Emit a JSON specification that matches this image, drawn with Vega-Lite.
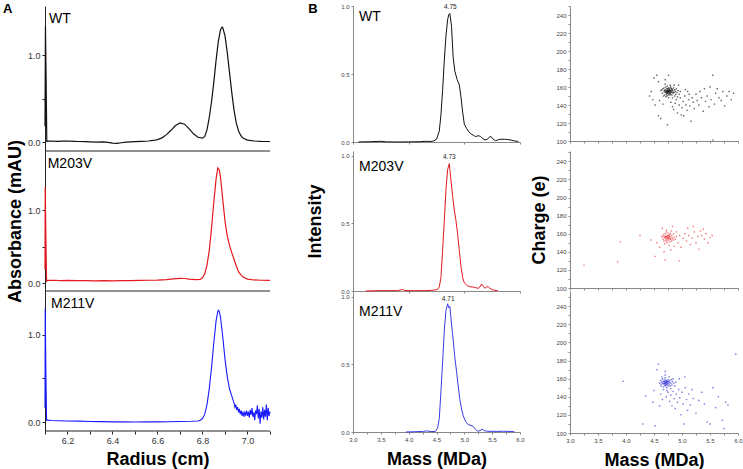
{
"$schema": "https://vega.github.io/schema/vega-lite/v6.json",
"padding": {"left": 2, "top": 2, "right": 0, "bottom": 0},
"background": "white",
"config": {
 "font": "Liberation Sans",
 "view": {"stroke": null},
 "axis": {"grid": false, "labelOverlap": false, "labelFont": "Liberation Sans", "titleFont": "Liberation Sans", "labelFontSize": 9, "labelColor": "#333", "tickSize": 3, "labelPadding": 2, "domainColor": "#222", "tickColor": "#222", "titleFontSize": 18, "titleFontWeight": "bold", "titleColor": "#000"},
 "axisX": {"labelFlush": false},
 "text": {"font": "Liberation Sans", "color": "#000"}
},
"datasets": {
 "absWT": [{"radius":6.100,"absorbance":0.18},{"radius":6.102,"absorbance":1.33},{"radius":6.105,"absorbance":0.70},{"radius":6.108,"absorbance":0.0},{"radius":6.11,"absorbance":0.01},{"radius":6.13,"absorbance":0.012},{"radius":6.15,"absorbance":0.008},{"radius":6.18,"absorbance":0.01},{"radius":6.2,"absorbance":0.012},{"radius":6.23,"absorbance":0.008},{"radius":6.25,"absorbance":0.006},{"radius":6.28,"absorbance":0.004},{"radius":6.3,"absorbance":0.002},{"radius":6.33,"absorbance":0.0},{"radius":6.36,"absorbance":0.002},{"radius":6.38,"absorbance":-0.004},{"radius":6.40,"absorbance":-0.012},{"radius":6.42,"absorbance":-0.016},{"radius":6.44,"absorbance":-0.008},{"radius":6.46,"absorbance":-0.002},{"radius":6.48,"absorbance":0.002},{"radius":6.50,"absorbance":0.005},{"radius":6.53,"absorbance":0.008},{"radius":6.56,"absorbance":0.012},{"radius":6.58,"absorbance":0.018},{"radius":6.60,"absorbance":0.028},{"radius":6.62,"absorbance":0.048},{"radius":6.64,"absorbance":0.085},{"radius":6.66,"absorbance":0.135},{"radius":6.68,"absorbance":0.19},{"radius":6.70,"absorbance":0.22},{"radius":6.72,"absorbance":0.205},{"radius":6.74,"absorbance":0.155},{"radius":6.76,"absorbance":0.095},{"radius":6.78,"absorbance":0.055},{"radius":6.80,"absorbance":0.045},{"radius":6.81,"absorbance":0.065},{"radius":6.82,"absorbance":0.14},{"radius":6.83,"absorbance":0.28},{"radius":6.84,"absorbance":0.46},{"radius":6.85,"absorbance":0.68},{"radius":6.86,"absorbance":0.93},{"radius":6.87,"absorbance":1.15},{"radius":6.88,"absorbance":1.29},{"radius":6.887,"absorbance":1.32},{"radius":6.89,"absorbance":1.315},{"radius":6.90,"absorbance":1.22},{"radius":6.91,"absorbance":1.03},{"radius":6.92,"absorbance":0.80},{"radius":6.93,"absorbance":0.57},{"radius":6.94,"absorbance":0.37},{"radius":6.95,"absorbance":0.22},{"radius":6.96,"absorbance":0.13},{"radius":6.97,"absorbance":0.075},{"radius":6.98,"absorbance":0.045},{"radius":7.00,"absorbance":0.022},{"radius":7.03,"absorbance":0.012},{"radius":7.06,"absorbance":0.008},{"radius":7.10,"absorbance":0.006}],
 "absM203V": [{"radius":6.100,"absorbance":0.19},{"radius":6.101,"absorbance":1.32},{"radius":6.104,"absorbance":0.60},{"radius":6.107,"absorbance":0.03},{"radius":6.11,"absorbance":0.04},{"radius":6.14,"absorbance":0.042},{"radius":6.17,"absorbance":0.038},{"radius":6.2,"absorbance":0.04},{"radius":6.24,"absorbance":0.036},{"radius":6.28,"absorbance":0.038},{"radius":6.32,"absorbance":0.034},{"radius":6.36,"absorbance":0.036},{"radius":6.4,"absorbance":0.035},{"radius":6.44,"absorbance":0.037},{"radius":6.48,"absorbance":0.038},{"radius":6.52,"absorbance":0.04},{"radius":6.56,"absorbance":0.042},{"radius":6.6,"absorbance":0.045},{"radius":6.64,"absorbance":0.052},{"radius":6.67,"absorbance":0.062},{"radius":6.70,"absorbance":0.068},{"radius":6.72,"absorbance":0.066},{"radius":6.74,"absorbance":0.058},{"radius":6.77,"absorbance":0.05},{"radius":6.79,"absorbance":0.055},{"radius":6.80,"absorbance":0.075},{"radius":6.81,"absorbance":0.13},{"radius":6.82,"absorbance":0.25},{"radius":6.83,"absorbance":0.45},{"radius":6.84,"absorbance":0.75},{"radius":6.85,"absorbance":1.10},{"radius":6.86,"absorbance":1.42},{"radius":6.868,"absorbance":1.58},{"radius":6.875,"absorbance":1.55},{"radius":6.88,"absorbance":1.45},{"radius":6.89,"absorbance":1.15},{"radius":6.90,"absorbance":0.85},{"radius":6.91,"absorbance":0.65},{"radius":6.92,"absorbance":0.52},{"radius":6.93,"absorbance":0.42},{"radius":6.94,"absorbance":0.33},{"radius":6.95,"absorbance":0.24},{"radius":6.96,"absorbance":0.16},{"radius":6.97,"absorbance":0.12},{"radius":6.98,"absorbance":0.085},{"radius":7.0,"absorbance":0.058},{"radius":7.03,"absorbance":0.046},{"radius":7.06,"absorbance":0.042},{"radius":7.10,"absorbance":0.04}],
 "absM211V": [{"radius":6.100,"absorbance":0.16},{"radius":6.101,"absorbance":1.30},{"radius":6.104,"absorbance":0.55},{"radius":6.107,"absorbance":0.02},{"radius":6.11,"absorbance":0.022},{"radius":6.13,"absorbance":0.018},{"radius":6.16,"absorbance":0.015},{"radius":6.2,"absorbance":0.012},{"radius":6.25,"absorbance":0.01},{"radius":6.3,"absorbance":0.006},{"radius":6.35,"absorbance":0.004},{"radius":6.4,"absorbance":0.002},{"radius":6.45,"absorbance":0.001},{"radius":6.5,"absorbance":0.0},{"radius":6.55,"absorbance":0.001},{"radius":6.6,"absorbance":0.002},{"radius":6.65,"absorbance":0.003},{"radius":6.7,"absorbance":0.005},{"radius":6.75,"absorbance":0.008},{"radius":6.78,"absorbance":0.012},{"radius":6.79,"absorbance":0.02},{"radius":6.80,"absorbance":0.04},{"radius":6.81,"absorbance":0.09},{"radius":6.82,"absorbance":0.20},{"radius":6.83,"absorbance":0.38},{"radius":6.84,"absorbance":0.62},{"radius":6.85,"absorbance":0.90},{"radius":6.86,"absorbance":1.15},{"radius":6.868,"absorbance":1.27},{"radius":6.872,"absorbance":1.28},{"radius":6.876,"absorbance":1.25},{"radius":6.88,"absorbance":1.20},{"radius":6.89,"absorbance":0.98},{"radius":6.90,"absorbance":0.72},{"radius":6.91,"absorbance":0.52},{"radius":6.92,"absorbance":0.38},{"radius":6.93,"absorbance":0.30},{"radius":6.936,"absorbance":0.25},{"radius":6.940,"absorbance":0.22},{"radius":6.944,"absorbance":0.17},{"radius":6.948,"absorbance":0.20},{"radius":6.952,"absorbance":0.14},{"radius":6.956,"absorbance":0.17},{"radius":6.960,"absorbance":0.11},{"radius":6.964,"absorbance":0.15},{"radius":6.968,"absorbance":0.09},{"radius":6.972,"absorbance":0.13},{"radius":6.976,"absorbance":0.07},{"radius":6.980,"absorbance":0.12},{"radius":6.984,"absorbance":0.06},{"radius":6.988,"absorbance":0.11},{"radius":6.992,"absorbance":0.08},{"radius":6.996,"absorbance":0.13},{"radius":7.000,"absorbance":0.07},{"radius":7.004,"absorbance":0.12},{"radius":7.008,"absorbance":0.05},{"radius":7.012,"absorbance":0.14},{"radius":7.016,"absorbance":0.08},{"radius":7.020,"absorbance":0.16},{"radius":7.024,"absorbance":0.06},{"radius":7.028,"absorbance":0.11},{"radius":7.032,"absorbance":0.02},{"radius":7.036,"absorbance":0.13},{"radius":7.040,"absorbance":0.09},{"radius":7.044,"absorbance":0.19},{"radius":7.048,"absorbance":0.04},{"radius":7.052,"absorbance":0.15},{"radius":7.056,"absorbance":-0.02},{"radius":7.060,"absorbance":0.12},{"radius":7.064,"absorbance":0.05},{"radius":7.068,"absorbance":0.17},{"radius":7.072,"absorbance":0.03},{"radius":7.076,"absorbance":0.14},{"radius":7.080,"absorbance":0.06},{"radius":7.084,"absorbance":0.20},{"radius":7.088,"absorbance":0.02},{"radius":7.092,"absorbance":0.16},{"radius":7.096,"absorbance":0.07},{"radius":7.100,"absorbance":0.12}],
 "msWT": [{"mass":3.1,"intensity":0.0},{"mass":3.3,"intensity":0.002},{"mass":3.5,"intensity":0.005},{"mass":3.6,"intensity":0.001},{"mass":3.8,"intensity":0.0},{"mass":4.0,"intensity":0.001},{"mass":4.2,"intensity":0.002},{"mass":4.3,"intensity":0.005},{"mass":4.4,"intensity":0.004},{"mass":4.45,"intensity":0.008},{"mass":4.50,"intensity":0.02},{"mass":4.55,"intensity":0.08},{"mass":4.58,"intensity":0.2},{"mass":4.61,"intensity":0.38},{"mass":4.64,"intensity":0.6},{"mass":4.67,"intensity":0.78},{"mass":4.70,"intensity":0.9},{"mass":4.72,"intensity":0.935},{"mass":4.74,"intensity":0.945},{"mass":4.77,"intensity":0.85},{"mass":4.80,"intensity":0.62},{"mass":4.83,"intensity":0.52},{"mass":4.87,"intensity":0.46},{"mass":4.91,"intensity":0.42},{"mass":4.94,"intensity":0.33},{"mass":4.97,"intensity":0.22},{"mass":5.00,"intensity":0.13},{"mass":5.04,"intensity":0.10},{"mass":5.08,"intensity":0.075},{"mass":5.12,"intensity":0.06},{"mass":5.16,"intensity":0.05},{"mass":5.20,"intensity":0.04},{"mass":5.25,"intensity":0.046},{"mass":5.29,"intensity":0.042},{"mass":5.33,"intensity":0.025},{"mass":5.37,"intensity":0.015},{"mass":5.41,"intensity":0.02},{"mass":5.45,"intensity":0.036},{"mass":5.48,"intensity":0.04},{"mass":5.52,"intensity":0.02},{"mass":5.56,"intensity":0.01},{"mass":5.60,"intensity":0.015},{"mass":5.65,"intensity":0.02},{"mass":5.72,"intensity":0.02},{"mass":5.78,"intensity":0.018},{"mass":5.84,"intensity":0.014},{"mass":5.90,"intensity":0.008},{"mass":5.97,"intensity":0.004}],
 "msM203V": [{"mass":3.23,"intensity":0.0},{"mass":3.4,"intensity":0.002},{"mass":3.6,"intensity":0.003},{"mass":3.8,"intensity":0.003},{"mass":3.86,"intensity":0.008},{"mass":3.89,"intensity":0.012},{"mass":3.93,"intensity":0.004},{"mass":4.1,"intensity":0.002},{"mass":4.3,"intensity":0.003},{"mass":4.45,"intensity":0.006},{"mass":4.52,"intensity":0.012},{"mass":4.55,"intensity":0.03},{"mass":4.58,"intensity":0.10},{"mass":4.61,"intensity":0.30},{"mass":4.64,"intensity":0.52},{"mass":4.67,"intensity":0.75},{"mass":4.70,"intensity":0.90},{"mass":4.73,"intensity":0.943},{"mass":4.76,"intensity":0.82},{"mass":4.79,"intensity":0.70},{"mass":4.82,"intensity":0.60},{"mass":4.85,"intensity":0.52},{"mass":4.88,"intensity":0.42},{"mass":4.91,"intensity":0.30},{"mass":4.94,"intensity":0.18},{"mass":4.97,"intensity":0.10},{"mass":5.00,"intensity":0.06},{"mass":5.05,"intensity":0.04},{"mass":5.10,"intensity":0.032},{"mass":5.15,"intensity":0.03},{"mass":5.20,"intensity":0.025},{"mass":5.25,"intensity":0.02},{"mass":5.28,"intensity":0.03},{"mass":5.31,"intensity":0.052},{"mass":5.34,"intensity":0.035},{"mass":5.37,"intensity":0.02},{"mass":5.40,"intensity":0.03},{"mass":5.43,"intensity":0.032},{"mass":5.46,"intensity":0.02},{"mass":5.50,"intensity":0.01},{"mass":5.55,"intensity":0.005},{"mass":5.60,"intensity":0.002}],
 "msM211V": [{"mass":3.95,"intensity":0.0},{"mass":4.1,"intensity":0.002},{"mass":4.25,"intensity":0.004},{"mass":4.32,"intensity":0.008},{"mass":4.40,"intensity":0.003},{"mass":4.48,"intensity":0.004},{"mass":4.52,"intensity":0.03},{"mass":4.55,"intensity":0.10},{"mass":4.58,"intensity":0.30},{"mass":4.61,"intensity":0.52},{"mass":4.64,"intensity":0.75},{"mass":4.67,"intensity":0.90},{"mass":4.70,"intensity":0.95},{"mass":4.72,"intensity":0.92},{"mass":4.74,"intensity":0.93},{"mass":4.77,"intensity":0.80},{"mass":4.80,"intensity":0.68},{"mass":4.83,"intensity":0.55},{"mass":4.86,"intensity":0.45},{"mass":4.89,"intensity":0.34},{"mass":4.92,"intensity":0.24},{"mass":4.95,"intensity":0.17},{"mass":4.98,"intensity":0.12},{"mass":5.02,"intensity":0.08},{"mass":5.06,"intensity":0.058},{"mass":5.10,"intensity":0.05},{"mass":5.15,"intensity":0.045},{"mass":5.20,"intensity":0.02},{"mass":5.24,"intensity":0.006},{"mass":5.28,"intensity":0.01},{"mass":5.32,"intensity":0.02},{"mass":5.36,"intensity":0.01},{"mass":5.42,"intensity":0.005},{"mass":5.5,"intensity":0.005},{"mass":5.6,"intensity":0.004},{"mass":5.7,"intensity":0.006},{"mass":5.8,"intensity":0.004},{"mass":5.9,"intensity":0.002}],
 "cdWT": [{"mass":4.62,"charge":156},{"mass":4.65,"charge":153},{"mass":4.66,"charge":158},{"mass":4.68,"charge":155},{"mass":4.69,"charge":151},{"mass":4.70,"charge":157},{"mass":4.70,"charge":154},{"mass":4.71,"charge":160},{"mass":4.72,"charge":152},{"mass":4.72,"charge":156},{"mass":4.73,"charge":155},{"mass":4.73,"charge":158},{"mass":4.74,"charge":153},{"mass":4.74,"charge":156},{"mass":4.75,"charge":154},{"mass":4.75,"charge":157},{"mass":4.75,"charge":151},{"mass":4.76,"charge":155},{"mass":4.76,"charge":159},{"mass":4.77,"charge":153},{"mass":4.77,"charge":156},{"mass":4.78,"charge":154},{"mass":4.78,"charge":157},{"mass":4.78,"charge":151},{"mass":4.79,"charge":155},{"mass":4.79,"charge":159},{"mass":4.80,"charge":152},{"mass":4.80,"charge":156},{"mass":4.81,"charge":154},{"mass":4.81,"charge":158},{"mass":4.82,"charge":155},{"mass":4.82,"charge":151},{"mass":4.83,"charge":157},{"mass":4.84,"charge":153},{"mass":4.84,"charge":156},{"mass":4.85,"charge":159},{"mass":4.86,"charge":154},{"mass":4.87,"charge":150},{"mass":4.87,"charge":157},{"mass":4.88,"charge":155},{"mass":4.89,"charge":152},{"mass":4.90,"charge":158},{"mass":4.91,"charge":154},{"mass":4.92,"charge":149},{"mass":4.93,"charge":156},{"mass":4.95,"charge":152},{"mass":4.97,"charge":155},{"mass":4.68,"charge":159},{"mass":4.67,"charge":150},{"mass":4.64,"charge":157},{"mass":4.71,"charge":149},{"mass":4.74,"charge":161},{"mass":4.79,"charge":162},{"mass":4.83,"charge":148},{"mass":4.86,"charge":162},{"mass":4.76,"charge":148},{"mass":4.70,"charge":163},{"mass":4.73,"charge":150},{"mass":4.80,"charge":160},{"mass":4.77,"charge":158},{"mass":4.72,"charge":154},{"mass":4.74,"charge":155},{"mass":4.76,"charge":156},{"mass":4.78,"charge":156},{"mass":4.75,"charge":155},{"mass":4.73,"charge":153},{"mass":4.77,"charge":154},{"mass":4.79,"charge":153},{"mass":4.81,"charge":156},{"mass":4.71,"charge":155},{"mass":4.69,"charge":156},{"mass":4.84,"charge":154},{"mass":4.82,"charge":158},{"mass":4.76,"charge":152},{"mass":4.74,"charge":158},{"mass":4.42,"charge":150},{"mass":4.48,"charge":146},{"mass":4.50,"charge":170},{"mass":4.55,"charge":173},{"mass":4.58,"charge":166},{"mass":4.52,"charge":140},{"mass":4.45,"charge":155},{"mass":4.60,"charge":145},{"mass":4.62,"charge":125},{"mass":4.66,"charge":141},{"mass":4.70,"charge":168},{"mass":4.74,"charge":118},{"mass":4.76,"charge":173},{"mass":4.80,"charge":143},{"mass":4.83,"charge":138},{"mass":4.85,"charge":135},{"mass":4.88,"charge":142},{"mass":4.90,"charge":146},{"mass":4.92,"charge":131},{"mass":4.95,"charge":140},{"mass":4.97,"charge":148},{"mass":5.00,"charge":137},{"mass":5.02,"charge":144},{"mass":5.03,"charge":128},{"mass":5.05,"charge":150},{"mass":5.07,"charge":140},{"mass":5.09,"charge":134},{"mass":5.10,"charge":155},{"mass":5.12,"charge":146},{"mass":5.14,"charge":139},{"mass":5.16,"charge":122},{"mass":5.18,"charge":148},{"mass":5.20,"charge":143},{"mass":5.22,"charge":136},{"mass":5.25,"charge":152},{"mass":5.27,"charge":145},{"mass":5.30,"charge":140},{"mass":5.32,"charge":155},{"mass":5.35,"charge":148},{"mass":5.38,"charge":133},{"mass":5.40,"charge":158},{"mass":5.42,"charge":144},{"mass":5.45,"charge":150},{"mass":5.48,"charge":138},{"mass":5.50,"charge":160},{"mass":5.52,"charge":146},{"mass":5.55,"charge":173},{"mass":5.58,"charge":141},{"mass":5.60,"charge":153},{"mass":5.63,"charge":158},{"mass":5.66,"charge":148},{"mass":5.70,"charge":145},{"mass":5.73,"charge":155},{"mass":5.76,"charge":139},{"mass":5.80,"charge":150},{"mass":5.84,"charge":155},{"mass":5.88,"charge":146},{"mass":5.92,"charge":153},{"mass":5.55,"charge":101},{"mass":4.58,"charge":128},{"mass":4.99,"charge":129},{"mass":5.06,"charge":157},{"mass":4.94,"charge":162},{"mass":5.13,"charge":152}],
 "cdM203V": [{"mass":4.64,"charge":157},{"mass":4.66,"charge":154},{"mass":4.67,"charge":159},{"mass":4.68,"charge":152},{"mass":4.69,"charge":156},{"mass":4.70,"charge":160},{"mass":4.70,"charge":155},{"mass":4.71,"charge":153},{"mass":4.72,"charge":157},{"mass":4.72,"charge":162},{"mass":4.73,"charge":155},{"mass":4.73,"charge":150},{"mass":4.74,"charge":158},{"mass":4.74,"charge":154},{"mass":4.75,"charge":156},{"mass":4.75,"charge":161},{"mass":4.76,"charge":153},{"mass":4.76,"charge":158},{"mass":4.77,"charge":155},{"mass":4.78,"charge":151},{"mass":4.78,"charge":157},{"mass":4.79,"charge":154},{"mass":4.79,"charge":160},{"mass":4.80,"charge":156},{"mass":4.81,"charge":152},{"mass":4.82,"charge":158},{"mass":4.83,"charge":155},{"mass":4.84,"charge":153},{"mass":4.85,"charge":160},{"mass":4.86,"charge":156},{"mass":4.88,"charge":154},{"mass":4.90,"charge":157},{"mass":4.69,"charge":149},{"mass":4.72,"charge":164},{"mass":4.77,"charge":147},{"mass":4.81,"charge":163},{"mass":4.74,"charge":156},{"mass":4.76,"charge":155},{"mass":4.71,"charge":157},{"mass":4.78,"charge":159},{"mass":4.73,"charge":152},{"mass":4.66,"charge":157},{"mass":4.80,"charge":154},{"mass":4.75,"charge":158},{"mass":4.70,"charge":157},{"mass":4.77,"charge":157},{"mass":3.25,"charge":125},{"mass":3.90,"charge":151},{"mass":3.85,"charge":129},{"mass":4.25,"charge":158},{"mass":4.45,"charge":153},{"mass":4.55,"charge":150},{"mass":4.60,"charge":145},{"mass":4.65,"charge":166},{"mass":4.68,"charge":140},{"mass":4.80,"charge":142},{"mass":4.83,"charge":168},{"mass":4.86,"charge":146},{"mass":4.90,"charge":162},{"mass":4.93,"charge":150},{"mass":4.96,"charge":158},{"mass":4.98,"charge":145},{"mass":5.02,"charge":155},{"mass":5.05,"charge":160},{"mass":5.08,"charge":152},{"mass":5.10,"charge":166},{"mass":5.12,"charge":158},{"mass":5.15,"charge":148},{"mass":5.18,"charge":155},{"mass":5.22,"charge":162},{"mass":5.25,"charge":150},{"mass":5.28,"charge":157},{"mass":5.30,"charge":143},{"mass":5.33,"charge":163},{"mass":5.35,"charge":158},{"mass":5.38,"charge":165},{"mass":5.40,"charge":154},{"mass":5.43,"charge":160},{"mass":5.46,"charge":150},{"mass":5.50,"charge":156},{"mass":5.54,"charge":158},{"mass":4.52,"charge":135},{"mass":4.95,"charge":130},{"mass":5.20,"charge":168},{"mass":4.70,"charge":131}],
 "cdM211V": [{"mass":4.60,"charge":155},{"mass":4.62,"charge":158},{"mass":4.63,"charge":152},{"mass":4.64,"charge":156},{"mass":4.65,"charge":160},{"mass":4.66,"charge":154},{"mass":4.66,"charge":157},{"mass":4.67,"charge":151},{"mass":4.68,"charge":155},{"mass":4.68,"charge":159},{"mass":4.69,"charge":153},{"mass":4.69,"charge":157},{"mass":4.70,"charge":155},{"mass":4.70,"charge":161},{"mass":4.71,"charge":152},{"mass":4.71,"charge":156},{"mass":4.72,"charge":158},{"mass":4.72,"charge":154},{"mass":4.73,"charge":156},{"mass":4.73,"charge":150},{"mass":4.74,"charge":157},{"mass":4.74,"charge":153},{"mass":4.75,"charge":159},{"mass":4.75,"charge":155},{"mass":4.76,"charge":152},{"mass":4.76,"charge":157},{"mass":4.77,"charge":154},{"mass":4.78,"charge":158},{"mass":4.78,"charge":156},{"mass":4.79,"charge":152},{"mass":4.80,"charge":155},{"mass":4.81,"charge":159},{"mass":4.82,"charge":153},{"mass":4.83,"charge":157},{"mass":4.85,"charge":155},{"mass":4.87,"charge":152},{"mass":4.64,"charge":162},{"mass":4.67,"charge":148},{"mass":4.70,"charge":164},{"mass":4.73,"charge":147},{"mass":4.77,"charge":162},{"mass":4.80,"charge":149},{"mass":4.84,"charge":160},{"mass":4.89,"charge":156},{"mass":4.71,"charge":158},{"mass":4.69,"charge":155},{"mass":4.73,"charge":154},{"mass":4.66,"charge":155},{"mass":4.75,"charge":157},{"mass":4.68,"charge":157},{"mass":4.72,"charge":156},{"mass":4.70,"charge":153},{"mass":4.74,"charge":155},{"mass":4.62,"charge":154},{"mass":3.95,"charge":157},{"mass":4.30,"charge":110},{"mass":4.35,"charge":141},{"mass":4.48,"charge":134},{"mass":4.50,"charge":147},{"mass":4.52,"charge":108},{"mass":4.55,"charge":170},{"mass":4.58,"charge":176},{"mass":4.62,"charge":143},{"mass":4.65,"charge":137},{"mass":4.70,"charge":168},{"mass":4.72,"charge":140},{"mass":4.75,"charge":145},{"mass":4.78,"charge":135},{"mass":4.80,"charge":142},{"mass":4.82,"charge":130},{"mass":4.84,"charge":146},{"mass":4.86,"charge":138},{"mass":4.88,"charge":127},{"mass":4.90,"charge":143},{"mass":4.92,"charge":134},{"mass":4.94,"charge":148},{"mass":4.96,"charge":139},{"mass":4.98,"charge":120},{"mass":5.00,"charge":145},{"mass":5.02,"charge":132},{"mass":5.04,"charge":110},{"mass":5.06,"charge":150},{"mass":5.08,"charge":137},{"mass":5.10,"charge":125},{"mass":5.12,"charge":143},{"mass":5.15,"charge":131},{"mass":5.18,"charge":148},{"mass":5.20,"charge":138},{"mass":5.25,"charge":122},{"mass":5.30,"charge":136},{"mass":5.35,"charge":145},{"mass":5.40,"charge":132},{"mass":5.45,"charge":112},{"mass":5.50,"charge":110},{"mass":5.55,"charge":150},{"mass":5.60,"charge":128},{"mass":5.65,"charge":140},{"mass":5.72,"charge":114},{"mass":5.75,"charge":105},{"mass":5.78,"charge":134},{"mass":5.82,"charge":131},{"mass":5.96,"charge":187},{"mass":4.95,"charge":160},{"mass":5.05,"charge":162},{"mass":4.60,"charge":130}]
},
"columns": 3,
"spacing": {"row": 0, "column": 50},
"bounds": "flush",
"align": "each",
"concat": [
 {"width": 258, "height": 145,
  "layer": [
   {"data": {"name": "absWT"}, "mark": {"type": "line", "color": "#111", "strokeWidth": 1.2},
    "encoding": {
     "x": {"field": "radius", "type": "quantitative", "scale": {"domain": [6.1, 7.2467], "nice": false, "zero": false}, "axis": null},
     "y": {"field": "absorbance", "type": "quantitative", "scale": {"domain": [-0.103, 1.563], "nice": false, "zero": false}, "axis": {"title": null, "values": [0, 0.5, 1], "labelExpr": "datum.value == 0.5 ? '' : format(datum.value, '.1f')"}}}},
   {"data": {"values": [{"label": "line"}]}, "mark": {"type": "rule", "color": "#222", "strokeWidth": 1}, "encoding": {"x": {"datum": 6.1}, "x2": {"datum": 7.1}, "y": {"datum": -0.103}}},
   {"data": {"values": [{"label": "WT"}]}, "mark": {"type": "text", "align": "left", "baseline": "middle", "fontSize": 14}, "encoding": {"x": {"datum": 6.118}, "y": {"datum": 1.414}, "text": {"field": "label"}}},
   {"data": {"values": [{"label": "A"}]}, "mark": {"type": "text", "align": "left", "baseline": "middle", "fontSize": 13, "fontWeight": "bold"}, "encoding": {"x": {"datum": 5.9133}, "y": {"datum": 1.528}, "text": {"field": "label"}}}
  ]},
 {"width": 167, "height": 136,
  "layer": [
   {"data": {"name": "msWT"}, "mark": {"type": "line", "color": "#111", "strokeWidth": 1},
    "encoding": {
     "x": {"field": "mass", "type": "quantitative", "scale": {"domain": [3, 6], "nice": false, "zero": false}, "axis": {"title": null, "labels": false, "values": [3,3.25,3.5,3.75,4,4.25,4.5,4.75,5,5.25,5.5,5.75,6], "tickSize": 2, "domainColor": "#888", "tickColor": "#888"}},
     "y": {"field": "intensity", "type": "quantitative", "scale": {"domain": [0, 1], "nice": false}, "axis": {"title": null, "values": [0, 0.5, 1], "format": ".1f", "labelFontSize": 6, "tickSize": 2, "domainColor": "#888", "tickColor": "#888", "labelColor": "#444"}}}},
   {"data": {"values": [{"label": "WT"}]}, "mark": {"type": "text", "align": "left", "baseline": "middle", "fontSize": 14}, "encoding": {"x": {"datum": 3.11}, "y": {"datum": 0.916}, "text": {"field": "label"}}},
   {"data": {"values": [{"label": "4.75"}]}, "mark": {"type": "text", "align": "center", "baseline": "middle", "fontSize": 6.5, "color": "#222"}, "encoding": {"x": {"datum": 4.75}, "y": {"datum": 0.995}, "text": {"field": "label"}}},
   {"data": {"values": [{"label": "B"}]}, "mark": {"type": "text", "align": "center", "baseline": "middle", "fontSize": 13, "fontWeight": "bold"}, "encoding": {"x": {"datum": 2.281}, "y": {"datum": 0.978}, "text": {"field": "label"}}}
  ]},
 {"width": 168, "height": 135,
  "data": {"name": "cdWT"},
  "mark": {"type": "square", "size": 2, "color": "#000", "opacity": 0.6},
  "encoding": {
   "x": {"field": "mass", "type": "quantitative", "scale": {"domain": [3, 6], "nice": false, "zero": false}, "axis": {"title": null, "labels": false, "values": [3,3.25,3.5,3.75,4,4.25,4.5,4.75,5,5.25,5.5,5.75,6], "tickSize": 2, "domainColor": "#888", "tickColor": "#888"}},
   "y": {"field": "charge", "type": "quantitative", "scale": {"domain": [100, 250], "nice": false, "zero": false}, "axis": {"title": null, "values": [100,110,120,130,140,150,160,170,180,190,200,210,220,230,240,250], "labelExpr": "datum.value % 20 == 0 && datum.value < 250 ? format(datum.value, 'd') : ''", "labelFontSize": 6, "tickSize": 2, "domainColor": "#888", "tickColor": "#888", "labelColor": "#444"}}}},
 {"width": 258, "height": 140,
  "layer": [
   {"data": {"name": "absM203V"}, "mark": {"type": "line", "color": "#e3191f", "strokeWidth": 1.2},
    "encoding": {
     "x": {"field": "radius", "type": "quantitative", "scale": {"domain": [6.1, 7.2467], "nice": false, "zero": false}, "axis": null},
     "y": {"field": "absorbance", "type": "quantitative", "scale": {"domain": [-0.105, 1.812], "nice": false, "zero": false}, "axis": {"title": "Absorbance (mAU)", "titlePadding": 3, "values": [0, 0.5, 1], "labelExpr": "datum.value == 0.5 ? '' : format(datum.value, '.1f')"}}}},
   {"data": {"values": [{"label": "line"}]}, "mark": {"type": "rule", "color": "#222", "strokeWidth": 1}, "encoding": {"x": {"datum": 6.1}, "x2": {"datum": 7.1}, "y": {"datum": -0.105}}},
   {"data": {"values": [{"label": "M203V"}]}, "mark": {"type": "text", "align": "left", "baseline": "middle", "fontSize": 14}, "encoding": {"x": {"datum": 6.112}, "y": {"datum": 1.638}, "text": {"field": "label"}}}
  ]},
 {"width": 167, "height": 140,
  "layer": [
   {"data": {"name": "msM203V"}, "mark": {"type": "line", "color": "#e3191f", "strokeWidth": 1},
    "encoding": {
     "x": {"field": "mass", "type": "quantitative", "scale": {"domain": [3, 6], "nice": false, "zero": false}, "axis": {"title": null, "labels": false, "values": [3,3.25,3.5,3.75,4,4.25,4.5,4.75,5,5.25,5.5,5.75,6], "tickSize": 2, "domainColor": "#888", "tickColor": "#888"}},
     "y": {"field": "intensity", "type": "quantitative", "scale": {"domain": [0, 1.037], "nice": false}, "axis": {"title": "Intensity", "titlePadding": 16, "values": [0, 0.5, 1], "format": ".1f", "labelFontSize": 6, "tickSize": 2, "domainColor": "#888", "tickColor": "#888", "labelColor": "#444"}}}},
   {"data": {"values": [{"label": "M203V"}]}, "mark": {"type": "text", "align": "left", "baseline": "middle", "fontSize": 14}, "encoding": {"x": {"datum": 3.11}, "y": {"datum": 0.921}, "text": {"field": "label"}}},
   {"data": {"values": [{"label": "4.73"}]}, "mark": {"type": "text", "align": "center", "baseline": "middle", "fontSize": 6.5, "color": "#222"}, "encoding": {"x": {"datum": 4.73}, "y": {"datum": 0.995}, "text": {"field": "label"}}}
  ]},
 {"width": 168, "height": 137,
  "data": {"name": "cdM203V"},
  "mark": {"type": "square", "size": 2, "color": "#e8262c", "opacity": 0.6},
  "encoding": {
   "x": {"field": "mass", "type": "quantitative", "scale": {"domain": [3, 6], "nice": false, "zero": false}, "axis": {"title": null, "labels": false, "values": [3,3.25,3.5,3.75,4,4.25,4.5,4.75,5,5.25,5.5,5.75,6], "tickSize": 2, "domainColor": "#888", "tickColor": "#888"}},
   "y": {"field": "charge", "type": "quantitative", "scale": {"domain": [100, 251.5], "nice": false, "zero": false}, "axis": {"title": "Charge (e)", "titlePadding": 7, "values": [100,110,120,130,140,150,160,170,180,190,200,210,220,230,240,250], "labelExpr": "datum.value % 20 == 0 && datum.value < 250 ? format(datum.value, 'd') : ''", "labelFontSize": 6, "tickSize": 2, "domainColor": "#888", "tickColor": "#888", "labelColor": "#444"}}}},
 {"width": 258, "height": 140,
  "resolve": {"axis": {"x": "independent"}},
  "layer": [
   {"data": {"name": "absM211V"}, "mark": {"type": "line", "color": "#1a1aff", "strokeWidth": 1.1},
    "encoding": {
     "x": {"field": "radius", "type": "quantitative", "scale": {"domain": [6.1, 7.2467], "nice": false, "zero": false}, "axis": {"orient": "bottom", "domain": false, "title": "Radius (cm)", "titleX": 112.5, "titlePadding": 5, "values": [6.2, 6.4, 6.6, 6.8, 7.0], "format": ".1f"}},
     "y": {"field": "absorbance", "type": "quantitative", "scale": {"domain": [-0.103, 1.501], "nice": false, "zero": false}, "axis": {"title": null, "values": [0, 0.5, 1], "labelExpr": "datum.value == 0.5 ? '' : format(datum.value, '.1f')"}}}},
   {"data": {"values": [{"label": "line"}]}, "mark": {"type": "rule", "color": "#222", "strokeWidth": 1}, "encoding": {"x": {"datum": 6.1, "axis": {"orient": "bottom", "domain": false, "labels": false, "title": null, "values": [6.1, 6.3, 6.5, 6.7, 6.9, 7.1]}}, "x2": {"datum": 7.1}, "y": {"datum": -0.103}}},
   {"data": {"values": [{"label": "M211V"}]}, "mark": {"type": "text", "align": "left", "baseline": "middle", "fontSize": 14}, "encoding": {"x": {"datum": 6.127, "axis": null}, "y": {"datum": 1.348}, "text": {"field": "label"}}}
  ]},
 {"width": 167, "height": 141,
  "resolve": {"axis": {"x": "independent"}},
  "layer": [
   {"data": {"name": "msM211V"}, "mark": {"type": "line", "color": "#3a3ae6", "strokeWidth": 1},
    "encoding": {
     "x": {"field": "mass", "type": "quantitative", "scale": {"domain": [3, 6], "nice": false, "zero": false}, "axis": {"orient": "bottom", "title": "Mass (MDa)", "titlePadding": 8, "values": [3, 3.5, 4, 4.5, 5, 5.5, 6], "format": ".1f", "labelFontSize": 6, "tickSize": 2, "domainColor": "#888", "tickColor": "#888", "labelColor": "#444"}},
     "y": {"field": "intensity", "type": "quantitative", "scale": {"domain": [0, 1.0444], "nice": false}, "axis": {"title": null, "values": [0, 0.5, 1], "format": ".1f", "labelFontSize": 6, "tickSize": 2, "domainColor": "#888", "tickColor": "#888", "labelColor": "#444"}}}},
   {"data": {"values": [{"label": "M211V"}]}, "mark": {"type": "text", "align": "left", "baseline": "middle", "fontSize": 14}, "encoding": {"x": {"datum": 3.11, "axis": {"orient": "bottom", "domain": false, "labels": false, "title": null, "values": [3.25, 3.75, 4.25, 4.75, 5.25, 5.75], "tickSize": 2, "tickColor": "#888"}}, "y": {"datum": 0.89}, "text": {"field": "label"}}},
   {"data": {"values": [{"label": "4.71"}]}, "mark": {"type": "text", "align": "center", "baseline": "middle", "fontSize": 6.5, "color": "#222"}, "encoding": {"x": {"datum": 4.71, "axis": null}, "y": {"datum": 0.988}, "text": {"field": "label"}}}
  ]},
 {"width": 168, "height": 142,
  "resolve": {"axis": {"x": "independent"}},
  "layer": [
   {"data": {"name": "cdM211V"},
    "mark": {"type": "square", "size": 2, "color": "#1c1cd0", "opacity": 0.6},
    "encoding": {
     "x": {"field": "mass", "type": "quantitative", "scale": {"domain": [3, 6], "nice": false, "zero": false}, "axis": {"orient": "bottom", "title": "Mass (MDa)", "titlePadding": 8, "values": [3, 3.5, 4, 4.5, 5, 5.5, 6], "format": ".1f", "labelFontSize": 6, "tickSize": 2, "domainColor": "#888", "tickColor": "#888", "labelColor": "#444"}},
     "y": {"field": "charge", "type": "quantitative", "scale": {"domain": [100, 256.9], "nice": false, "zero": false}, "axis": {"title": null, "values": [100,110,120,130,140,150,160,170,180,190,200,210,220,230,240,250], "labelExpr": "datum.value % 20 == 0 && datum.value < 250 ? format(datum.value, 'd') : ''", "labelFontSize": 6, "tickSize": 2, "domainColor": "#888", "tickColor": "#888", "labelColor": "#444"}}}},
   {"data": {"values": [{"label": ""}]}, "mark": {"type": "text"}, "encoding": {"x": {"datum": 3, "axis": {"orient": "bottom", "domain": false, "labels": false, "title": null, "values": [3.25, 3.75, 4.25, 4.75, 5.25, 5.75], "tickSize": 2, "tickColor": "#888"}}, "text": {"field": "label"}}}
  ]}
]
}
